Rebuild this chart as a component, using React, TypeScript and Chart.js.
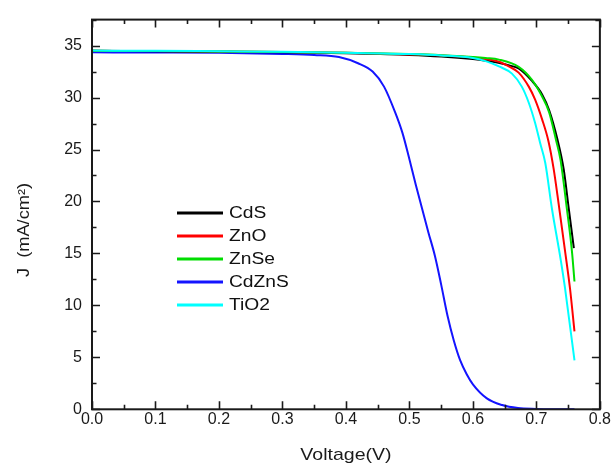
import React, { useEffect, useRef } from "react";
import { Chart, registerables } from "chart.js";

Chart.register(...registerables);

// ---- data ----
const seriesNames = ["CdS", "ZnO", "ZnSe", "CdZnS", "TiO2"];
const seriesColors = ["#000000", "#ff0000", "#00dd00", "#1414ff", "#00ffff"];

const cdsV = [0, 0.1, 0.2, 0.3, 0.4, 0.5, 0.55, 0.6, 0.62, 0.64, 0.66, 0.672, 0.693, 0.709, 0.72, 0.733, 0.743, 0.751, 0.759];
const cdsJ = [34.5, 34.45, 34.4, 34.35, 34.25, 34.1, 33.95, 33.7, 33.55, 33.35, 33.05, 32.8, 31.6, 30.3, 28.8, 26.0, 23.1, 19.3, 15.5];

const znoV = [0, 0.1, 0.2, 0.3, 0.4, 0.5, 0.55, 0.6, 0.62, 0.641, 0.658, 0.672, 0.688, 0.698, 0.709, 0.719, 0.727, 0.735, 0.745, 0.753, 0.76];
const znoJ = [34.5, 34.47, 34.43, 34.38, 34.3, 34.15, 34.05, 33.85, 33.7, 33.45, 32.95, 32.4, 31.05, 29.8, 27.9, 25.8, 23.2, 19.8, 15.3, 11.6, 7.5];

const znseV = [0, 0.1, 0.2, 0.3, 0.4, 0.5, 0.55, 0.6, 0.62, 0.641, 0.672, 0.693, 0.709, 0.72, 0.731, 0.738, 0.748, 0.756, 0.76];
const znseJ = [34.5, 34.47, 34.43, 34.38, 34.3, 34.18, 34.08, 33.9, 33.8, 33.65, 32.95, 31.7, 30.1, 28.6, 25.9, 24.0, 19.3, 15.2, 12.3];

const cdznsV = [0, 0.1, 0.2, 0.3, 0.35, 0.389, 0.419, 0.442, 0.46, 0.478, 0.489, 0.499, 0.51, 0.52, 0.53, 0.54, 0.55, 0.56, 0.57, 0.58, 0.59, 0.6, 0.622, 0.646, 0.671, 0.7, 0.73, 0.76];
const cdznsJ = [34.35, 34.33, 34.3, 34.2, 34.1, 33.9, 33.3, 32.5, 31.05, 28.5, 26.6, 24.3, 21.6, 19.3, 17.0, 14.8, 12.0, 9.0, 6.6, 4.7, 3.4, 2.4, 1.05, 0.41, 0.12, 0.04, 0.01, 0.0];

const tio2V = [0, 0.1, 0.2, 0.3, 0.4, 0.5, 0.55, 0.6, 0.62, 0.641, 0.6615, 0.677, 0.688, 0.698, 0.706, 0.714, 0.7245, 0.738, 0.745, 0.76];
const tio2J = [34.52, 34.5, 34.45, 34.4, 34.32, 34.18, 34.05, 33.8, 33.5, 33.0, 32.3, 31.05, 29.5, 27.55, 25.6, 23.7, 19.3, 14.5, 11.7, 4.7];

const seriesV = [cdsV, znoV, znseV, cdznsV, tio2V];
const seriesJ = [cdsJ, znoJ, znseJ, cdznsJ, tio2J];
const drawOrder = [3, 2, 1, 4, 0];

const xMin = 0;
const xMax = 0.8;
const xStep = 0.1;
const yMin = 0;
const yMax = 37.5;
const yStep = 5;

const xTitle = "Voltage(V)";
const yTitle = "J  (mA/cm\u00B2)";

const FONT = "'Liberation Sans', Arial, sans-serif";
const INK = "#1a1a1a";

function stretchedText(ctx: any, text: string, x: number, y: number, sx: number, align: string) {
  ctx.save();
  ctx.translate(x, y);
  ctx.scale(sx, 1);
  ctx.textAlign = align;
  ctx.fillText(text, 0, 0);
  ctx.restore();
}

const framePlugin = {
  id: "framePlugin",
  afterDatasetsDraw(chart: any) {
    const { ctx, chartArea } = chart;
    const { left, right, top, bottom } = chartArea;
    const xs = chart.scales.x;
    const ys = chart.scales.y;
    ctx.save();
    ctx.strokeStyle = INK;
    ctx.lineWidth = 2;
    ctx.strokeRect(left, top, right - left, bottom - top);
    ctx.lineWidth = 1.6;
    ctx.beginPath();
    for (let v = xMin; v <= xMax + 1e-9; v += xStep / 2) {
      const i = Math.round(v / (xStep / 2));
      const len = i % 2 === 0 ? 8 : 4.5;
      const px = Math.round(xs.getPixelForValue(v)) + 0.5;
      ctx.moveTo(px, bottom);
      ctx.lineTo(px, bottom - len);
      ctx.moveTo(px, top);
      ctx.lineTo(px, top + len);
    }
    for (let v = yMin; v <= yMax + 1e-9; v += yStep / 2) {
      const i = Math.round(v / (yStep / 2));
      const len = i % 2 === 0 ? 8 : 4.5;
      const py = Math.round(ys.getPixelForValue(v)) + 0.5;
      ctx.moveTo(left, py);
      ctx.lineTo(left + len, py);
      ctx.moveTo(right, py);
      ctx.lineTo(right - len, py);
    }
    ctx.stroke();

    // axis titles
    ctx.fillStyle = INK;
    ctx.textBaseline = "middle";
    ctx.font = `17px ${FONT}`;
    stretchedText(ctx, xTitle, (left + right) / 2, 455, 1.15, "center");
    ctx.save();
    ctx.translate(25, 230);
    ctx.rotate(-Math.PI / 2);
    ctx.font = `16px ${FONT}`;
    stretchedText(ctx, yTitle, 0, 0, 1.14, "center");
    ctx.restore();

    // legend
    const lx0 = 177;
    const lx1 = 223;
    const ly0 = 213;
    const dy = 23;
    ctx.font = `16px ${FONT}`;
    ctx.textBaseline = "middle";
    chart.data.datasets.forEach((ds: any, i: number) => {
      const y = ly0 + i * dy;
      ctx.strokeStyle = ds.borderColor;
      ctx.lineWidth = 3;
      ctx.beginPath();
      ctx.moveTo(lx0, y);
      ctx.lineTo(lx1, y);
      ctx.stroke();
      ctx.fillStyle = "#111";
      stretchedText(ctx, ds.label, 229, y + 1, 1.2, "left");
    });
    ctx.restore();
  },
};

export default function App() {
  const ref = useRef<HTMLCanvasElement | null>(null);
  useEffect(() => {
    if (!ref.current) return;
    const datasets = seriesNames.map((name, i) => ({
      label: name,
      data: seriesV[i].map((v, k) => ({ x: v, y: seriesJ[i][k] })),
      borderColor: seriesColors[i],
      backgroundColor: seriesColors[i],
      borderWidth: 2,
      pointRadius: 0,
      fill: false,
      tension: 0,
      cubicInterpolationMode: "monotone" as const,
      order: drawOrder[i],
    }));
    const chart = new Chart(ref.current, {
      type: "line",
      data: { datasets },
      options: {
        animation: false,
        responsive: false,
        devicePixelRatio: 1,
        layout: { padding: { left: 0, right: 10.5, top: 16.7, bottom: 0 } },
        plugins: { legend: { display: false }, tooltip: { enabled: false } },
        scales: {
          x: {
            type: "linear",
            min: xMin,
            max: xMax,
            grid: { display: false, drawTicks: false },
            border: { display: false },
            ticks: {
              stepSize: xStep,
              padding: 1,
              color: INK,
              font: { family: FONT, size: 16 },
              maxRotation: 0,
              callback: (v: any) => Number(v).toFixed(1),
            },
            afterFit: (s: any) => {
              s.height = 53.7;
            },
          },
          y: {
            type: "linear",
            min: yMin,
            max: yMax,
            grid: { display: false, drawTicks: false },
            border: { display: false },
            ticks: {
              stepSize: yStep,
              includeBounds: false,
              padding: 10,
              color: INK,
              font: { family: FONT, size: 16 },
            },
            afterFit: (s: any) => {
              s.width = 92;
            },
          },
        },
      },
      plugins: [framePlugin],
    });
    return () => chart.destroy();
  }, []);
  return (
    <div style={{ position: "fixed", left: 0, top: 0, width: 612, height: 463, background: "#fff" }}>
      <canvas ref={ref} width={612} height={463} style={{ width: 612, height: 463 }} />
    </div>
  );
}
